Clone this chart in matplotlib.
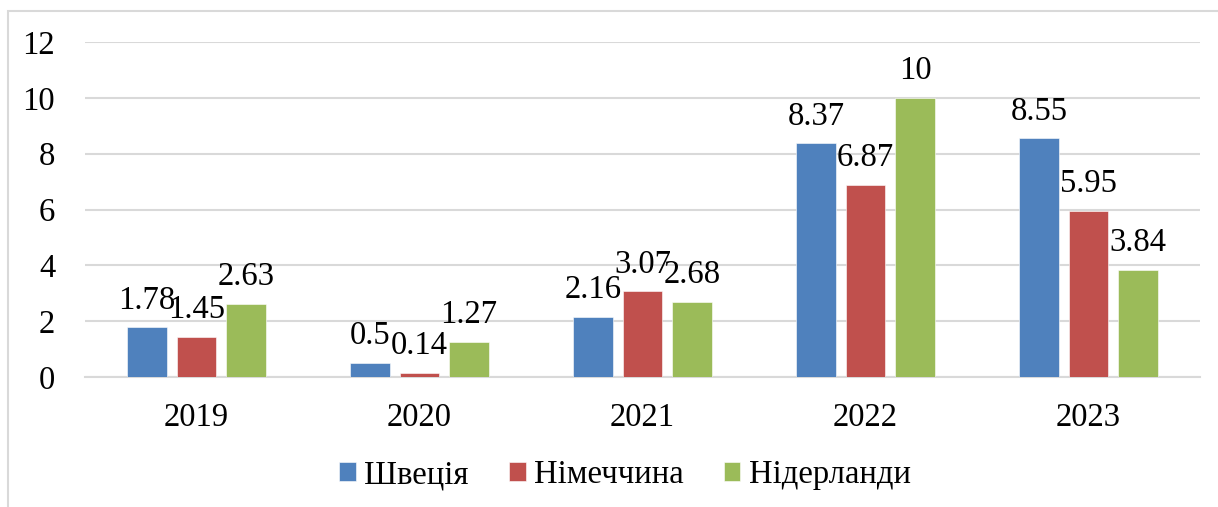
import matplotlib
matplotlib.use("Agg")
import matplotlib.pyplot as plt
import numpy as np
from matplotlib.patches import Rectangle

years = ["2019", "2020", "2021", "2022", "2023"]
series_names = ["Швеція", "Німеччина", "Нідерланди"]
sweden = [1.78, 0.5, 2.16, 8.37, 8.55]
germany = [1.45, 0.14, 3.07, 6.87, 5.95]
netherlands = [2.63, 1.27, 2.68, 10, 3.84]
labels_sweden = ["1.78", "0.5", "2.16", "8.37", "8.55"]
labels_germany = ["1.45", "0.14", "3.07", "6.87", "5.95"]
labels_netherlands = ["2.63", "1.27", "2.68", "10", "3.84"]
yticks = [0, 2, 4, 6, 8, 10, 12]

colors = ["#4F81BD", "#C0504D", "#9BBB59"]

plt.rcParams['font.family'] = ['Liberation Serif', 'DejaVu Serif']
FS = 23.5

W, H = 1218, 507
fig = plt.figure(figsize=(W / 100, H / 100), dpi=100)
ax = fig.add_axes([85 / W, 1 - 377 / H, (1200 - 85) / W, (377 - 42) / H])

x = np.arange(len(years))
bw = 0.175
step = 0.222
all_vals = [sweden, germany, netherlands]
all_labels = [labels_sweden, labels_germany, labels_netherlands]
for i, (vals, labs, name, c) in enumerate(zip(all_vals, all_labels, series_names, colors)):
    pos = x + (i - 1) * step
    ax.bar(pos, vals, width=bw, color=c, label=name, zorder=3,
           edgecolor="white", linewidth=0.4)
    for p, v, l in zip(pos, vals, labs):
        ax.annotate(l, (p, v), xytext=(0, 13.5), textcoords="offset points",
                    ha="center", va="baseline", fontsize=FS, color="black", zorder=4)

ax.set_xlim(-0.5, len(years) - 0.5)
ax.set_ylim(0, 12)
ax.set_yticks(yticks)
ax.set_yticklabels([str(t) for t in yticks], fontsize=FS)
ax.set_xticks(x)
ax.set_xticklabels(years, fontsize=FS)
ax.tick_params(axis="both", length=0)
ax.tick_params(axis="y", pad=21.5)
ax.tick_params(axis="x", pad=18)
ax.grid(axis="y", color="#D9D9D9", linewidth=1.5, zorder=0)
for s in ["top", "right", "left"]:
    ax.spines[s].set_visible(False)
ax.spines["bottom"].set_color("#D9D9D9")
ax.spines["bottom"].set_linewidth(1.5)

leg = fig.legend(loc="center", bbox_to_anchor=(625 / W, 1 - 475 / H), ncol=3,
                 frameon=False, fontsize=FS, handlelength=0.5, handleheight=0.5,
                 handletextpad=0.25, columnspacing=1.25)

fig.patches.append(Rectangle((8 / W, -0.01), 1.02, 1 - 11 / H + 0.01,
                             transform=fig.transFigure, fill=False,
                             edgecolor="#D9D9D9", linewidth=1.5))

fig.savefig("out.png", dpi=100)
